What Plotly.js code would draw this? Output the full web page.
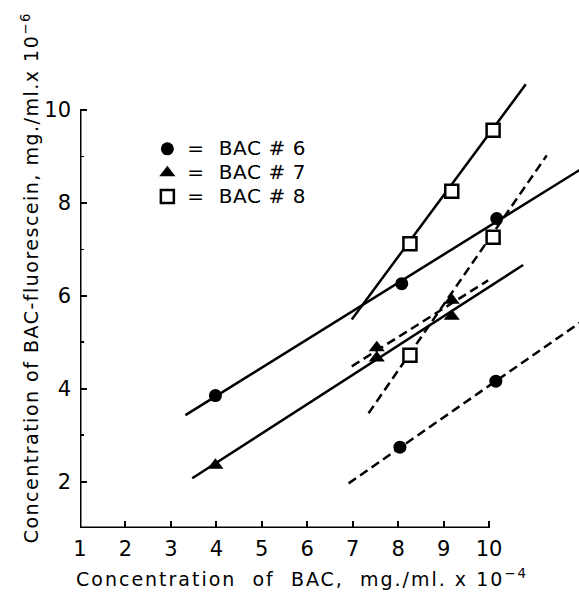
<!DOCTYPE html>
<html>
<head>
<meta charset="utf-8">
<script src="https://cdn.plot.ly/plotly-3.0.1.min.js"></script>
<style>html,body{margin:0;padding:0;background:#fff;}#chart{width:579px;height:592px;}</style>
</head>
<body>
<div id="chart"></div>
<script>
// Data (x: BAC, mg/ml x 10^-4; y: BAC-fluorescein, mg/ml x 10^-6)
const bac6SolidX = [3.98, 8.08, 10.17];
const bac6SolidY = [3.85, 6.26, 7.66];
const bac6DashX = [8.04, 10.15];
const bac6DashY = [2.74, 4.16];
const bac7SolidX = [3.98, 7.53, 9.18];
const bac7SolidY = [2.35, 4.66, 5.56];
const bac7DashX = [7.53, 9.18];
const bac7DashY = [4.88, 5.90];
const bac8SolidX = [8.26, 9.18, 10.09];
const bac8SolidY = [7.12, 8.25, 9.56];
const bac8DashX = [8.26, 10.09];
const bac8DashY = [4.72, 7.26];

// Fitted lines (end points)
const fit6SolidX = [3.32, 12.0];
const fit6SolidY = [3.43, 8.71];
const fit6DashX = [6.91, 12.0];
const fit6DashY = [1.96, 5.42];
const fit7SolidX = [3.47, 10.75];
const fit7SolidY = [2.07, 6.66];
const fit7DashX = [6.98, 9.98];
const fit7DashY = [4.48, 6.33];
const fit8SolidX = [6.98, 10.81];
const fit8SolidY = [5.49, 10.55];
const fit8DashX = [7.35, 11.27];
const fit8DashY = [3.47, 9.02];

const seriesNames = ["=  BAC # 6", "=  BAC # 7", "=  BAC # 8"];
const xTickVals = [1, 2, 3, 4, 5, 6, 7, 8, 9, 10];
const xTickText = ["1", "2", "3", "4", "5", "6", "7", "8", "9", "10"];
const yTickVals = [2, 4, 6, 8, 10];
const yTickText = ["2", "4", "6", "8", "10"];
const xTitle = "Concentration  of  BAC,  mg./ml. x 10<sup>−4</sup>";
const yTitle = "Concentration of BAC-fluorescein, mg./ml.x 10<sup>−6</sup>";

const solid = {color: "#000", width: 2.5};
const dashed = {color: "#000", width: 2.5, dash: "9px,5px"};
function line(x, y, style) {
  return {x: x, y: y, mode: "lines", line: style, showlegend: false, hoverinfo: "skip", type: "scatter"};
}
const circle = {symbol: "circle", size: 13, color: "#000"};
const tri = {symbol: "triangle-up", size: 14, color: "#000"};
const sq = {symbol: "square", size: 13, color: "#fff", line: {color: "#000", width: 2.5}};
function big(t) { return '<span style="font-size:20px;letter-spacing:0.6px">' + t + '</span>'; }
function pts(x, y, m, name, show) {
  return {x: x, y: y, mode: "markers", marker: m, name: big(name), showlegend: show, type: "scatter", cliponaxis: false};
}

const data = [
  line(fit6SolidX, fit6SolidY, solid),
  line(fit6DashX, fit6DashY, dashed),
  line(fit7SolidX, fit7SolidY, solid),
  line(fit7DashX, fit7DashY, dashed),
  line(fit8SolidX, fit8SolidY, solid),
  line(fit8DashX, fit8DashY, dashed),
  pts(bac6SolidX, bac6SolidY, circle, seriesNames[0], true),
  pts(bac7SolidX, bac7SolidY, tri, seriesNames[1], true),
  pts(bac8SolidX, bac8SolidY, sq, seriesNames[2], true),
  pts(bac6DashX, bac6DashY, circle, seriesNames[0], false),
  pts(bac7DashX, bac7DashY, tri, seriesNames[1], false),
  pts(bac8DashX, bac8DashY, sq, seriesNames[2], false)
];

const fontFam = "DejaVu Sans, sans-serif";
const layout = {
  width: 579, height: 592,
  margin: {l: 80, r: 0, t: 82, b: 64},
  paper_bgcolor: "#fff", plot_bgcolor: "#fff",
  font: {family: fontFam, color: "#000"},
  showlegend: true,
  legend: {x: 0.135, y: 0.888, xanchor: "left", yanchor: "top", bgcolor: "rgba(0,0,0,0)",
           font: {size: 16, family: fontFam, color: "#000"}, tracegroupgap: 0, itemclick: false},
  xaxis: {range: [1, 11.98], showgrid: false, zeroline: false, showline: false,
          tickmode: "array", tickvals: xTickVals, ticktext: xTickText,
          ticks: "inside", ticklen: 7, tickwidth: 2, tickcolor: "#000",
          tickfont: {size: 21, family: fontFam}, ticklabelstandoff: 6},
  yaxis: {range: [1, 10.6], showgrid: false, zeroline: false, showline: false,
          tickmode: "array", tickvals: yTickVals, ticktext: yTickText,
          ticks: "inside", ticklen: 7, tickwidth: 2, tickcolor: "#000",
          minor: {tickvals: [3, 5, 7, 9], ticks: "inside", ticklen: 4, tickwidth: 1.5, tickcolor: "#000"},
          tickfont: {size: 21, family: fontFam}, ticklabelstandoff: 8},
  shapes: [
    {type: "line", xref: "x", yref: "y", x0: 1, y0: 1, x1: 10, y1: 1, line: {color: "#000", width: 3}},
    {type: "line", xref: "x", yref: "y", x0: 1, y0: 1, x1: 1, y1: 10, line: {color: "#000", width: 3}}
  ],
  annotations: [
    {xref: "paper", yref: "paper", x: 0.445, y: -0.112, xanchor: "center", yanchor: "middle", showarrow: false,
     text: '<span style="letter-spacing:2px">' + xTitle + '</span>', font: {size: 19, family: fontFam}},
    {xref: "paper", yref: "paper", x: -0.1, y: 0.56, xanchor: "center", yanchor: "middle", showarrow: false, textangle: -90,
     text: '<span style="letter-spacing:1.5px">' + yTitle + '</span>', font: {size: 19, family: fontFam}}
  ]
};

Plotly.newPlot("chart", data, layout, {displayModeBar: false, staticPlot: true});
</script>
</body>
</html>
